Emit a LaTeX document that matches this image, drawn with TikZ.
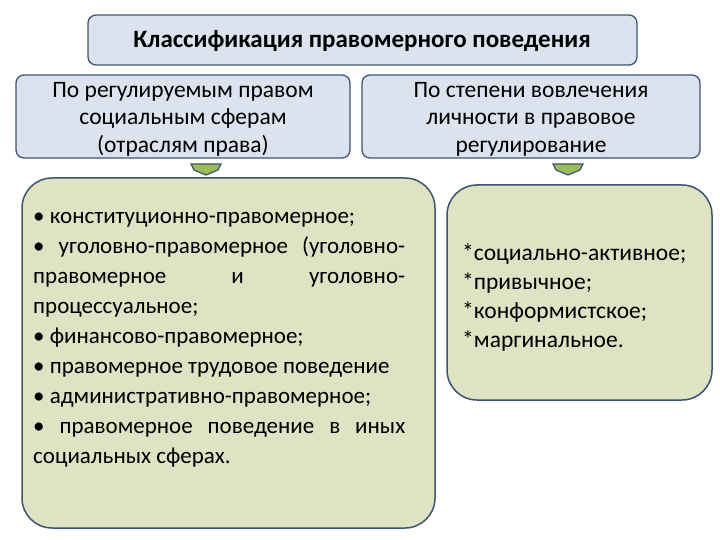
\documentclass[tikz,border=0pt]{standalone}
\usepackage{fontspec}
\setmainfont{Carlito}
\definecolor{hfill}{HTML}{DDE3EE}
\definecolor{bfill}{HTML}{DDE3C3}
\definecolor{edge}{HTML}{3E5470}
\definecolor{tipg}{HTML}{9BBB59}
\begin{document}
\begin{tikzpicture}[x=1pt,y=-1pt,
  hdr/.style={draw=edge, line width=1.3pt, fill=hfill, rounded corners=8pt},
  body/.style={draw=edge, line width=1.5pt, fill=bfill, rounded corners=30pt},
  tip/.style={draw=edge, line width=1.2pt, fill=tipg}]
\useasboundingbox (0,0) rectangle (720,540);
\draw[hdr] (88,15) rectangle (637,65);
\node[font=\fontsize{25}{30}\selectfont\bfseries] (t) at (362,41) {Классификация правомерного поведения};
\draw[hdr] (16,75) rectangle (350,158);
\node[align=center,font=\fontsize{23.5}{27.5}\selectfont] (l) at (183,119) {По регулируемым правом\\социальным сферам\\(отраслям права)};
\draw[hdr] (362,75) rectangle (700,158);
\node[align=center,font=\fontsize{23.5}{27.5}\selectfont] (r) at (531,119) {По степени вовлечения\\личности в правовое\\регулирование};
\draw[tip] (191,164) -- (221,164) -- (218,170) -- (206,175) -- (194,170) -- cycle;
\draw[tip] (553,164) -- (583,164) -- (580,170) -- (568,175) -- (556,170) -- cycle;
\draw[body] (22,178) rectangle (435,528);
\node[anchor=north west,inner sep=0pt,text width=372pt,align=justify,font=\fontsize{23}{30}\selectfont] (lb) at (33,212)
{• конституционно-правомерное;\\
• уголовно-правомерное (уголовно-правомерное и уголовно-процессуальное;\\
• финансово-правомерное;\\
• правомерное трудовое поведение\\
• административно-правомерное;\\
• правомерное поведение в иных социальных сферах.};
\draw[body] (447,185) rectangle (712,400);
\node[anchor=north west,inner sep=0pt,align=left,font=\fontsize{23.5}{29}\selectfont] (rb) at (462,244)
{*социально-активное;\\*привычное;\\*конформистское;\\*маргинальное.};
\end{tikzpicture}
\end{document}
